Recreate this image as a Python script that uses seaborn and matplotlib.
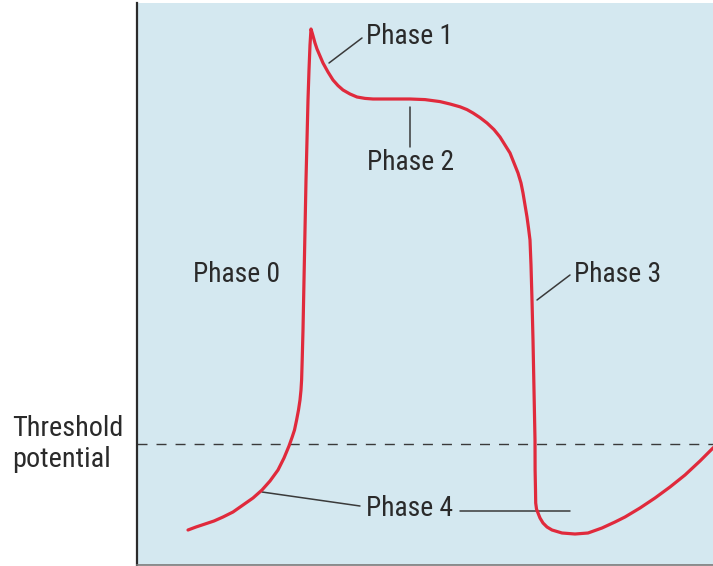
import matplotlib
matplotlib.use("Agg")
import matplotlib.pyplot as plt
from matplotlib import font_manager as fm
import seaborn as sns
import pandas as pd

# Action potential trace (time in ms, membrane potential in mV)
time_ms = [25.5, 29.5, 34, 38.5, 43, 48, 53, 58, 62.5, 66.5, 70.5, 73.5, 76, 77.6, 78.75,
           79.8, 80.75, 81.5, 82, 82.3, 82.6, 83, 83.5, 84, 84.5, 85, 85.5, 86, 86.5, 87,
           87.75, 89, 90, 91.5, 93, 95.5, 98, 100.5, 103, 106.5, 110, 114, 118, 126.5,
           136.5, 144, 151.5, 156.5, 161.5, 165, 168, 171.5, 175, 178.5, 181.5, 184,
           186.5, 188.5, 190.5, 192, 193, 194, 195, 195.75, 196.5, 197, 197.5, 198,
           198.5, 199, 199.05, 199.25, 199.35, 199.75, 200.5, 201.5, 203, 205, 207.5,
           212.5, 219, 225.5, 232.5, 239, 244, 251.5, 259, 266.5, 274, 281.5, 288, 292.5]
voltage_mv = [-91.5, -90.75, -90, -89.25, -88.25, -87, -85.25, -83.5, -81.5, -79.25,
              -76.5, -73.5, -70.5, -68.25, -66.5, -64, -61.5, -59, -56.5, -54, -49,
              -41.5, -29, -16.5, -4, 6, 16, 23.5, 29.75, 33.75, 32.5, 30.25, 28.75, 27,
              25.25, 23, 21, 19.6, 18.5, 17.5, 16.75, 16.4, 16.25, 16.25, 16.25, 16.1,
              15.6, 15, 14.3, 13.6, 12.75, 11.6, 10.25, 8.6, 6.75, 4.75, 2.75, 0.25,
              -2.25, -4.75, -7.25, -10.25, -13.25, -16, -19, -25.25, -34, -44, -56.5,
              -69, -76.5, -81.5, -84.75, -86.25, -87.25, -88.5, -89.75, -90.75, -91.5,
              -92.25, -92.5, -92.25, -91, -89.5, -88.25, -86, -83.5, -80.75, -77.75,
              -74.25, -71, -69]
threshold_mv = -70

phase_labels = ["Phase 0", "Phase 1", "Phase 2", "Phase 3", "Phase 4"]
label_t = [28, 114.5, 115, 218.5, 114.5]
label_v = [-27.75, 31.75, 0.25, -27.75, -86.25]

df = pd.DataFrame({"t": time_ms, "v": voltage_mv})

sns.set_theme(style="white")
plt.rcParams["font.family"] = ["Liberation Sans", "DejaVu Sans"]

# pick a narrow/condensed sans face if one is installed
font_file = None
prefs = ["LiberationSansNarrow-Regular", "RobotoCondensed-Regular", "DejaVuSansCondensed.ttf",
         "OpenSans_Condensed-Regular", "OpenSansCondensed"]
files = [f.fname for f in fm.fontManager.ttflist]
for p in prefs:
    hits = [f for f in files if p in f.split("/")[-1]]
    if hits:
        font_file = hits[0]
        break
if font_file is None:
    font_file = fm.findfont(fm.FontProperties(family="Liberation Sans"))

fig = plt.figure(figsize=(7.13, 5.66), dpi=100)
renderer = fig.canvas.get_renderer()


def fitted_props(sample, target_px):
    fp = fm.FontProperties(fname=font_file, size=20)
    w, h, d = renderer.get_text_width_height_descent(sample, fp, ismath=False)
    size = min(21.5, 20 * target_px / w)
    return fm.FontProperties(fname=font_file, size=size)


label_fp = fitted_props("Phase 1", 87)
thresh_fp = fitted_props("Threshold", 111)

ax = fig.add_axes([137 / 713, 1 / 566, 576 / 713, 562 / 566])
ax.set_facecolor("#d4e8f0")

ax.axhline(threshold_mv, color="#3a3a3a", lw=1.0, linestyle=(0, (7.2, 6.5)), zorder=1)

sns.lineplot(data=df, x="t", y="v", sort=False, estimator=None, ax=ax,
             color="#e02a3c", lw=2.3, zorder=3)

ax.set_xlim(0, 288)
ax.set_ylim(-100.25, 40.25)
ax.set_xticks([])
ax.set_yticks([])
ax.set_xlabel("")
ax.set_ylabel("")

for s in ["top", "right"]:
    ax.spines[s].set_visible(False)
ax.spines["left"].set_color("#2b2b2b")
ax.spines["left"].set_linewidth(1.6)
ax.spines["bottom"].set_color("#7a7a7a")
ax.spines["bottom"].set_linewidth(1.2)

text_color = "#2a2a2a"
for lab, tx, vy in zip(phase_labels, label_t, label_v):
    ax.text(tx, vy, lab, ha="left", va="center", fontproperties=label_fp,
            color=text_color, zorder=4)

leader = dict(color="#3a3a3a", lw=1.1, zorder=2)
ax.plot([112.5, 96], [31.5, 25.25], **leader)          # Phase 1
ax.plot([136.5, 136.5], [14.25, 4.25], **leader)       # Phase 2
ax.plot([216.5, 200], [-27.75, -34], **leader)         # Phase 3
ax.plot([111.5, 62.5], [-85.5, -82], **leader)         # Phase 4 (left)
ax.plot([161.5, 216.5], [-86.75, -86.75], **leader)    # Phase 4 (right)

fig.text(12 / 713, 1 - 444 / 566, "Threshold\npotential", ha="left", va="center",
         fontproperties=thresh_fp, color=text_color, linespacing=1.15)

fig.savefig("out.png", dpi=100)
